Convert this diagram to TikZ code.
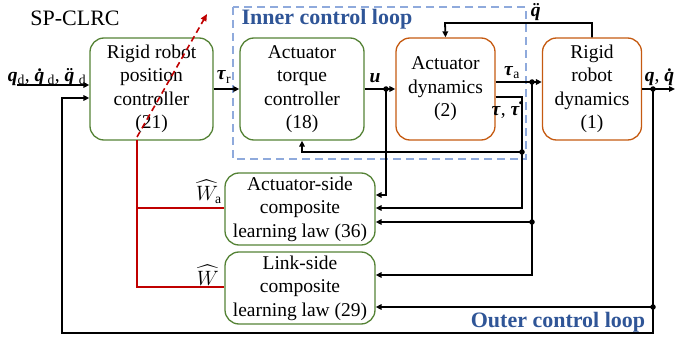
\documentclass[tikz,border=0pt]{standalone}
\usepackage{fontspec}
\usepackage{amsmath}
\setmainfont{Liberation Serif}
\usetikzlibrary{arrows.meta}
\definecolor{grn}{HTML}{548235}
\definecolor{org}{HTML}{C55A11}
\definecolor{bluetxt}{HTML}{2F5597}
\definecolor{bluedash}{HTML}{8FAADC}
\definecolor{redl}{HTML}{C00000}
\newcommand\bi[1]{\textbf{\textit{#1}}}
\begin{document}
\begin{tikzpicture}[x=1pt,y=-1pt,
  box/.style={draw, rounded corners=14pt, line width=1.3pt, align=center, inner sep=0pt,
    font=\fontsize{19.5}{23.5}\selectfont},
  gbox/.style={box, draw=grn},
  obox/.style={box, draw=org},
  conn/.style={line width=1.8pt, -{Triangle[length=6pt,width=5.5pt]}},
  dot/.style={circle, fill, inner sep=0pt, minimum size=5.5pt},
  lbl/.style={font=\fontsize{19.5}{23.5}\selectfont, inner sep=0pt},
  loopl/.style={font=\fontsize{22}{26}\selectfont\bfseries, text=bluetxt, inner sep=0pt},
  redw/.style={line width=1.8pt, draw=redl},
  reddash/.style={line width=1.6pt, draw=redl, dash pattern=on 6pt off 4pt, -{Triangle[length=7pt,width=6pt]}},
  innerloop/.style={draw=bluedash, line width=1.2pt, dash pattern=on 8pt off 5pt}]
\useasboundingbox (0,0) rectangle (675,345);
% inner loop frame
\draw[innerloop] (233,7) rectangle (526,159);
\node[font=\fontsize{22}{26}\selectfont, inner sep=0pt] (title) at (75,18) {SP-CLRC};
\node[loopl] (inl) at (327,19) {Inner control loop};
\node[loopl] (outl) at (558,322) {Outer control loop};
% boxes
\node[gbox, minimum width=123pt, minimum height=102pt] (b1) at (151.5,89) {Rigid robot\\position\\controller\\(21)};
\node[gbox, minimum width=124pt, minimum height=102pt] (b2) at (302,89) {Actuator\\torque\\controller\\(18)};
\node[obox, minimum width=99pt, minimum height=102pt] (b3) at (445.5,89) {Actuator\\dynamics\\(2)};
\node[obox, minimum width=99pt, minimum height=102pt] (b4) at (592,89) {Rigid\\robot\\dynamics\\(1)};
\node[gbox, minimum width=150pt, minimum height=72pt] (b5) at (300,209) {Actuator-side\\composite\\learning law (36)};
\node[gbox, minimum width=150pt, minimum height=72pt] (b6) at (300,288) {Link-side\\composite\\learning law (29)};
% junctions
\node[dot] (ju) at (386,89) {};
\node[dot] (ja) at (532,82) {};
\node[dot] (jt) at (522,152) {};
\node[dot] (ja2) at (532,222) {};
\node[dot] (jq) at (653,89) {};
\node[dot] (jw) at (653,307) {};
\coordinate (in) at (17,85);
\coordinate (u1) at (386,195);
\coordinate (tt0) at (522,97);
\coordinate (tt1) at (522,208);
\coordinate (ta3) at (532,275);
\coordinate (qq) at (445,23);
\coordinate (out) at (675,89);
\coordinate (bl) at (653,333);
\coordinate (bl2) at (62,333);
\coordinate (bl3) at (62,98);
\coordinate (r0) at (137,140);
\coordinate (r1) at (137,208);
\coordinate (r2) at (137,287);
\coordinate (rd0) at (137,137);
\coordinate (rd1) at (207,14);
% connectors
\draw[conn] (in) -- (b1.west |- in);
\draw[conn] (b1.east) -- (b2.west);
\draw[conn] (b2.east) -- (b3.west);
\draw[conn] (ju.center) |- (b5.east |- u1);
\draw[conn] (b3.east |- ja) -- (b4.west |- ja);
\draw[conn] (ja.center) |- (b6.east |- ta3);
\draw[conn] (ja2.center) -- (b5.east |- ja2);
\draw[conn] (b3.east |- tt0) -- (tt0) -- (tt1) -- (b5.east |- tt1);
\draw[conn] (jt.center) -| (b2.south);
\draw[conn] (b4.north) |- (qq) -- (b3.north);
\draw[conn] (b4.east) -- (out);
\draw[conn] (jq.center) -- (bl) -- (bl2) -- (bl3) -- (b1.west |- bl3);
\draw[conn] (jw.center) -- (b6.east |- jw);
% red learning outputs
\draw[redw] (r0) -- (r2) -- (b6.west |- r2);
\draw[redw] (r1) -- (b5.west |- r1);
\draw[reddash] (rd0) -- (rd1);
% labels
\node[lbl] (lin) at (47,77) {\bi{q}\textsubscript{d}, \bi{\.q}\textsubscript{d}, \bi{\"q}\textsubscript{d}};
\node[lbl] (ltr) at (224,77) {\bi{τ}\textsubscript{r}};
\node[lbl] (lu) at (375,78) {\bi{u}};
\node[lbl] (lta) at (512,73) {\bi{τ}\textsubscript{a}};
\node[lbl] (ltt) at (507,110) {\bi{τ}, \bi{\.τ}};
\node[lbl] (lqq) at (538,12) {\bi{\"q}};
\node[lbl] (lq) at (661,77) {\bi{q}, \bi{\.q}};
\node[lbl, anchor=east] (lwa) at (222,192) {$\widehat{W}_\mathrm{a}$};
\node[lbl, anchor=east] (lw) at (219,275) {$\widehat{W}$};
\end{tikzpicture}
\end{document}
